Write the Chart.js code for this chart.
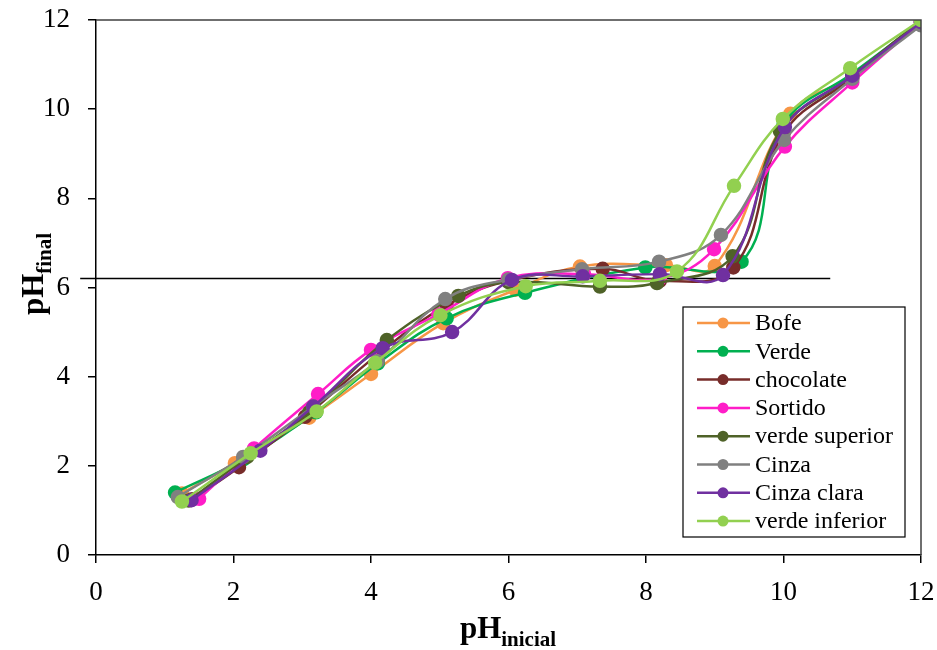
<!DOCTYPE html>
<html><head><meta charset="utf-8">
<script src="https://cdn.jsdelivr.net/npm/chart.js@4/dist/chart.umd.min.js"></script>
<style>html,body{margin:0;padding:0;background:#fff}#wrap{width:937px;height:650px;position:relative}</style>
</head><body><div id="wrap"><canvas id="c" width="937" height="650"></canvas></div>
<script>
const seriesNames = ["Bofe","Verde","chocolate","Sortido","verde superior","Cinza","Cinza clara","verde inferior"];
const seriesColors = ["#F79646","#00B050","#772C2A","#FF1DC8","#4F6228","#808080","#7030A0","#92D050"];

const bofeX = [1.25,2.02,3.10,4.00,5.05,6.10,7.04,8.29,9.00,10.10,11.00,12.00];
const bofeY = [1.38,2.06,3.08,4.06,5.20,5.95,6.47,6.50,6.48,9.90,10.75,11.95];
const verdeX = [1.15,2.15,3.20,4.10,5.10,6.24,7.99,9.39,10.00,11.00,12.00];
const verdeY = [1.40,2.15,3.20,4.30,5.31,5.88,6.45,6.58,9.65,10.80,11.95];
const chocolateX = [1.40,2.08,3.04,4.10,5.10,6.00,7.37,8.20,9.27,10.00,11.00,12.00];
const chocolateY = [1.25,1.97,3.10,4.50,5.60,6.15,6.42,6.15,6.45,9.45,10.70,11.95];
const sortidoX = [1.50,2.30,3.23,4.00,4.98,5.99,7.10,8.20,8.99,10.02,11.00,12.00];
const sortidoY = [1.26,2.39,3.61,4.60,5.40,6.21,6.30,6.20,6.86,9.16,10.60,11.95];
const verdeSupX = [1.35,2.20,3.10,4.23,5.27,6.00,7.33,8.16,9.26,9.95,11.00,12.00];
const verdeSupY = [1.22,2.20,3.20,4.82,5.81,6.12,6.02,6.10,6.70,9.50,10.75,12.00];
const cinzaX = [1.19,2.14,3.16,4.10,5.08,6.00,7.07,8.19,9.09,10.01,11.00,12.00];
const cinzaY = [1.30,2.20,3.33,4.35,5.74,6.18,6.41,6.58,7.18,9.31,10.68,11.88];
const cinzaClaraX = [1.39,2.39,3.16,4.17,5.18,6.05,7.08,8.20,9.12,10.02,11.00,12.00];
const cinzaClaraY = [1.23,2.34,3.33,4.64,5.00,6.17,6.25,6.30,6.28,9.60,10.75,11.95];
const verdeInfX = [1.25,2.25,3.21,4.06,5.01,6.25,7.33,8.45,9.28,9.99,10.97,12.00];
const verdeInfY = [1.20,2.28,3.22,4.31,5.38,6.03,6.15,6.36,8.28,9.78,10.92,12.00];

const refLineY = 6.2;
const refLineX = [-0.23, 10.68];
const xTickValues = [0,2,4,6,8,10,12];
const yTickValues = [0,2,4,6,8,10,12];

const allX = [bofeX,verdeX,chocolateX,sortidoX,verdeSupX,cinzaX,cinzaClaraX,verdeInfX];
const allY = [bofeY,verdeY,chocolateY,sortidoY,verdeSupY,cinzaY,cinzaClaraY,verdeInfY];

const datasets = seriesNames.map((name,i)=>({
  label:name,
  data: allX[i].map((x,j)=>({x:x,y:allY[i][j]})),
  borderColor: seriesColors[i],
  backgroundColor: seriesColors[i],
  pointBackgroundColor: seriesColors[i],
  pointBorderColor: seriesColors[i],
  pointRadius: 6,
  pointHoverRadius: 6,
  borderWidth: 2.5,
  tension: 0.4,
  fill:false,
  showLine:true,
  order: 8 - i
}));
datasets.push({
  label:'_ref',
  data: refLineX.map(x=>({x:x,y:refLineY})),
  borderColor:'#000',
  borderWidth:1.5,
  pointRadius:0,
  showLine:true,
  tension:0,
  clip:false,
  order: 20
});

const serif = "'Liberation Serif','Times New Roman',serif";

const decor = {
  id:'decor',
  afterDraw(chart){
    const ctx = chart.ctx;
    const a = chart.chartArea;
    ctx.save();
    ctx.strokeStyle = '#404040';
    ctx.lineWidth = 1.5;
    ctx.beginPath();
    ctx.moveTo(a.left, a.top); ctx.lineTo(a.right, a.top); ctx.lineTo(a.right, a.bottom);
    ctx.stroke();
    ctx.fillStyle = '#000';
    ctx.textBaseline = 'alphabetic';
    ctx.font = 'bold 31px ' + serif;
    const w1 = ctx.measureText('pH').width;
    ctx.font = 'bold 21px ' + serif;
    const w2 = ctx.measureText('inicial').width;
    let x0 = 508 - (w1+w2)/2;
    ctx.font = 'bold 31px ' + serif;
    ctx.textAlign = 'left';
    ctx.fillText('pH', x0, 638);
    ctx.font = 'bold 21px ' + serif;
    ctx.fillText('inicial', x0 + w1, 646);
    ctx.save();
    ctx.translate(43, 274);
    ctx.rotate(-Math.PI/2);
    ctx.font = 'bold 31px ' + serif;
    const v1 = ctx.measureText('pH').width;
    ctx.font = 'bold 21px ' + serif;
    const v2 = ctx.measureText('final').width;
    let s0 = -(v1+v2)/2;
    ctx.font = 'bold 31px ' + serif;
    ctx.fillText('pH', s0, 0);
    ctx.font = 'bold 21px ' + serif;
    ctx.fillText('final', s0 + v1, 8);
    ctx.restore();
    const lx = 683, ly = 307, lw = 222, lh = 230;
    ctx.fillStyle = '#fff';
    ctx.fillRect(lx, ly, lw, lh);
    ctx.strokeStyle = '#000';
    ctx.lineWidth = 1.2;
    ctx.strokeRect(lx, ly, lw, lh);
    ctx.font = '24px ' + serif;
    ctx.textBaseline = 'middle';
    ctx.textAlign = 'left';
    seriesNames.forEach((n,i)=>{
      const yy = 323 + i*28.3;
      ctx.strokeStyle = seriesColors[i];
      ctx.lineWidth = 2.5;
      ctx.beginPath(); ctx.moveTo(697, yy); ctx.lineTo(750, yy); ctx.stroke();
      ctx.fillStyle = seriesColors[i];
      ctx.beginPath(); ctx.arc(723, yy, 5.5, 0, Math.PI*2); ctx.fill();
      ctx.fillStyle = '#000';
      ctx.fillText(n, 755, yy + 1);
    });
    ctx.restore();
  }
};

new Chart(document.getElementById('c'), {
  type:'scatter',
  data:{datasets:datasets},
  options:{
    responsive:false,
    animation:false,
    layout:{padding:{left:0,top:20,right:16,bottom:0}},
    plugins:{legend:{display:false},tooltip:{enabled:false}},
    scales:{
      x:{
        type:'linear', min:0, max:12,
        afterFit(s){ s.height = 95; s.paddingLeft = 0; s.paddingRight = 0; s.paddingTop = 0; s.paddingBottom = 0; },
        afterBuildTicks(s){ s.ticks = xTickValues.map(v=>({value:v})); },
        ticks:{color:'#000', font:{family:serif,size:27}, padding:14, maxRotation:0},
        grid:{display:true, drawOnChartArea:false, drawTicks:true, tickLength:8, color:'#000', lineWidth:1.5},
        border:{display:true,color:'#000',width:1.5}
      },
      y:{
        type:'linear', min:0, max:12,
        afterFit(s){ s.width = 96; s.paddingTop = 0; s.paddingBottom = 0; s.paddingLeft = 0; s.paddingRight = 0; },
        afterBuildTicks(s){ s.ticks = yTickValues.map(v=>({value:v})); },
        ticks:{color:'#000', font:{family:serif,size:27}, padding:18},
        grid:{display:true, drawOnChartArea:false, drawTicks:true, tickLength:8, color:'#000', lineWidth:1.5},
        border:{display:true,color:'#000',width:1.5}
      }
    }
  },
  plugins:[decor]
});
</script>
</body></html>
